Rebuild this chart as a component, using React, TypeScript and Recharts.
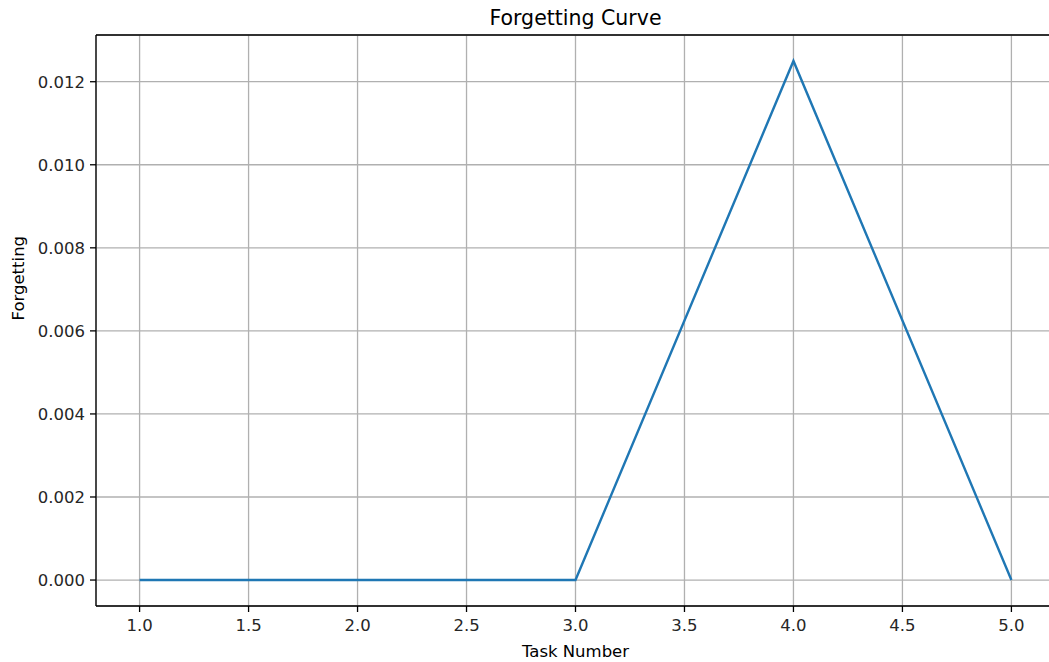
import { LineChart, Line, XAxis, YAxis, CartesianGrid, ReferenceLine } from "recharts"

const taskNumbers = [1, 2, 3, 4, 5]
const forgetting = [0, 0, 0, 0.0125, 0]
const xTicks = [1.0, 1.5, 2.0, 2.5, 3.0, 3.5, 4.0, 4.5, 5.0]
const yTicks = [0, 0.002, 0.004, 0.006, 0.008, 0.01, 0.012]

const data = taskNumbers.map((t, i) => ({ task: t, value: forgetting[i] }))

const font = "'DejaVu Sans', sans-serif"
const tickStyle = { fontSize: 16.5, fill: "#262626", fontFamily: font }

export default function App() {
  return (
    <div style={{ position: "absolute", left: 0, top: 0, width: 1049, height: 662, background: "#fff" }}>
      <LineChart
        width={1049}
        height={662}
        data={data}
        margin={{ top: 35, right: -6, left: 16, bottom: 16 }}
      >
        <text x={575.5} y={25} textAnchor="middle" fontSize={20.5} fontFamily={font} fill="#000">
          Forgetting Curve
        </text>
        <CartesianGrid stroke="#b0b0b0" strokeWidth={1.3} />
        <XAxis
          dataKey="task"
          type="number"
          domain={[0.8, 5.2]}
          ticks={xTicks}
          tickFormatter={(v: number) => v.toFixed(1)}
          tick={tickStyle}
          tickSize={6}
          tickMargin={7}
          height={40}
          stroke="#000"
          strokeWidth={1.3}
          allowDataOverflow
          label={{ value: "Task Number", position: "insideBottom", offset: -11, fontSize: 16.5, fontFamily: font, fill: "#000" }}
        />
        <YAxis
          type="number"
          domain={[-0.000625, 0.013125]}
          ticks={yTicks}
          tickFormatter={(v: number) => v.toFixed(3)}
          tick={tickStyle}
          tickSize={6}
          tickMargin={5}
          width={80}
          stroke="#000"
          strokeWidth={1.3}
          allowDataOverflow
          label={{ value: "Forgetting", angle: -90, position: "insideLeft", offset: 0, dx: 2, fontSize: 16.5, fontFamily: font, fill: "#000" }}
        />
        <ReferenceLine y={0.013125} stroke="#000" strokeWidth={1.3} />
        <Line
          dataKey="value"
          stroke="#1f77b4"
          strokeWidth={2.4}
          dot={false}
          isAnimationActive={false}
        />
      </LineChart>
    </div>
  )
}
